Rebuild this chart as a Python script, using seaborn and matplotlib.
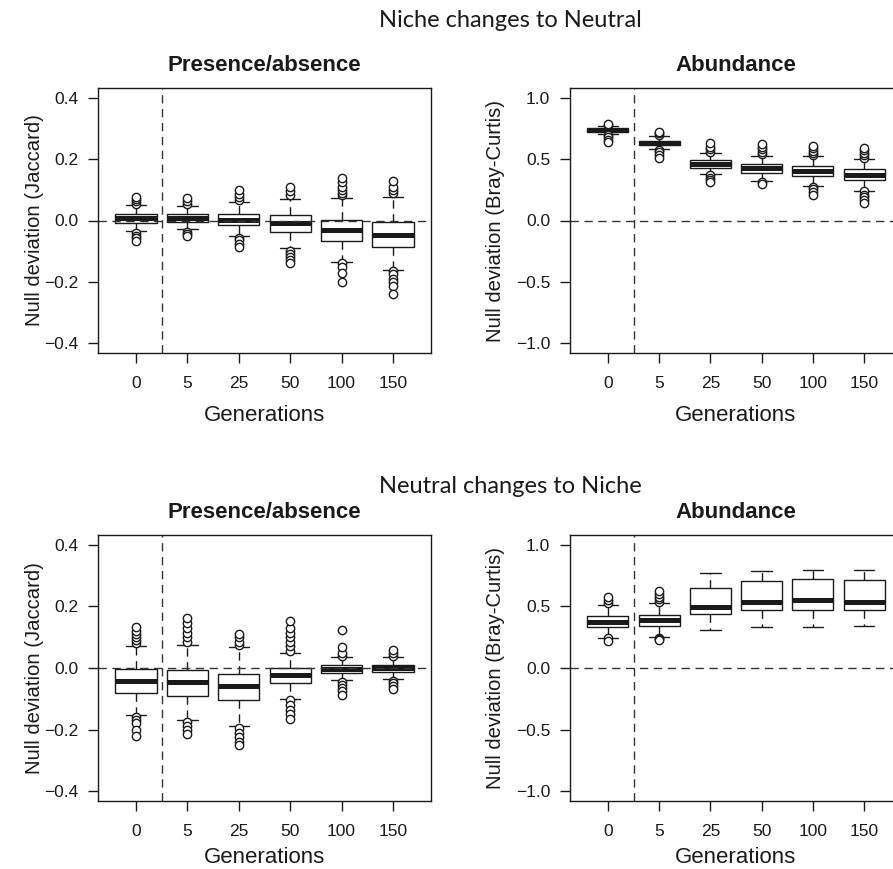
import numpy as np
import pandas as pd
import matplotlib
matplotlib.use("Agg")
import matplotlib.pyplot as plt
import seaborn as sns

# ---------------- data ----------------
generations = ["0", "5", "25", "50", "100", "150"]

# Niche changes to Neutral -- Presence/absence (Jaccard)
nn_pa_lo = [-0.035, -0.028, -0.050, -0.090, -0.135, -0.160]
nn_pa_q1 = [-0.008, -0.005, -0.016, -0.038, -0.068, -0.085]
nn_pa_med = [0.007, 0.008, 0.002, -0.009, -0.031, -0.047]
nn_pa_q3 = [0.022, 0.022, 0.022, 0.017, 0.002, -0.005]
nn_pa_hi = [0.049, 0.048, 0.059, 0.069, 0.074, 0.077]
nn_pa_out = [
    [0.055, 0.063, 0.070, 0.076, -0.042, -0.050, -0.058, -0.066],
    [0.055, 0.063, 0.074, -0.036, -0.044, -0.052],
    [0.067, 0.075, 0.085, 0.100, -0.057, -0.065, -0.075, -0.085],
    [0.083, 0.095, 0.110, -0.098, -0.110, -0.120, -0.130, -0.140],
    [0.082, 0.090, 0.100, 0.110, 0.125, 0.140, -0.140, -0.150, -0.170, -0.200],
    [0.090, 0.100, 0.110, 0.128, -0.165, -0.175, -0.190, -0.200, -0.215, -0.240],
]

# Niche changes to Neutral -- Abundance (Bray-Curtis)
nn_ab_lo = [0.707, 0.583, 0.377, 0.322, 0.285, 0.244]
nn_ab_q1 = [0.724, 0.612, 0.425, 0.390, 0.363, 0.330]
nn_ab_med = [0.740, 0.634, 0.460, 0.428, 0.404, 0.371]
nn_ab_q3 = [0.756, 0.650, 0.493, 0.463, 0.447, 0.420]
nn_ab_hi = [0.772, 0.688, 0.547, 0.528, 0.526, 0.500]
nn_ab_out = [
    [0.780, 0.790, 0.700, 0.680, 0.660, 0.640],
    [0.700, 0.712, 0.722, 0.575, 0.555, 0.530, 0.510],
    [0.560, 0.580, 0.600, 0.630, 0.370, 0.350, 0.330, 0.310],
    [0.540, 0.560, 0.580, 0.600, 0.622, 0.315, 0.300],
    [0.535, 0.550, 0.570, 0.590, 0.610, 0.275, 0.255, 0.235, 0.210],
    [0.510, 0.530, 0.550, 0.575, 0.595, 0.240, 0.210, 0.190, 0.165, 0.140],
]

# Neutral changes to Niche -- Presence/absence (Jaccard)
ne_pa_lo = [-0.154, -0.168, -0.190, -0.100, -0.040, -0.037]
ne_pa_q1 = [-0.080, -0.090, -0.105, -0.049, -0.016, -0.013]
ne_pa_med = [-0.041, -0.046, -0.060, -0.024, -0.002, 0.000]
ne_pa_q3 = [-0.004, -0.008, -0.018, 0.000, 0.011, 0.011]
ne_pa_hi = [0.071, 0.075, 0.068, 0.050, 0.036, 0.036]
ne_pa_out = [
    [0.080, 0.090, 0.100, 0.110, 0.120, 0.132, -0.160, -0.170, -0.180, -0.200, -0.220],
    [0.085, 0.100, 0.115, 0.130, 0.145, 0.162, -0.175, -0.190, -0.200, -0.215],
    [0.075, 0.085, 0.100, 0.112, -0.195, -0.210, -0.225, -0.240, -0.250],
    [0.055, 0.070, 0.085, 0.100, 0.115, 0.130, 0.152, -0.105, -0.120, -0.135, -0.150, -0.165],
    [0.040, 0.050, 0.068, 0.125, -0.045, -0.055, -0.065, -0.075, -0.088],
    [0.040, 0.050, 0.060, -0.042, -0.050, -0.060, -0.068],
]

# Neutral changes to Niche -- Abundance (Bray-Curtis)
ne_ab_lo = [0.247, 0.253, 0.307, 0.332, 0.334, 0.345]
ne_ab_q1 = [0.334, 0.342, 0.440, 0.467, 0.475, 0.473]
ne_ab_med = [0.375, 0.389, 0.495, 0.533, 0.549, 0.535]
ne_ab_q3 = [0.421, 0.432, 0.647, 0.709, 0.720, 0.715]
ne_ab_hi = [0.511, 0.530, 0.774, 0.790, 0.799, 0.799]
ne_ab_out = [
    [0.525, 0.555, 0.578, 0.240, 0.220],
    [0.540, 0.560, 0.580, 0.600, 0.625, 0.245, 0.235, 0.225],
    [], [], [], [],
]

# ---------------- style ----------------
sns.set_theme(style="white")
SANS = ["Liberation Sans", "DejaVu Sans"]
plt.rcParams["font.family"] = SANS
plt.rcParams["axes.edgecolor"] = "#1a1a1a"
plt.rcParams["axes.linewidth"] = 1.0

DASH = (0, (6, 4))
INK = "#1a1a1a"


def box_frame(lo, q1, med, q3, hi):
    rows = []
    for g, a, b, c, d, e in zip(generations, lo, q1, med, q3, hi):
        for v in (a, b, c, d, e):
            rows.append((g, v))
    return pd.DataFrame(rows, columns=["Generations", "value"])


def outlier_frame(outs):
    rows = [(g, v) for g, vals in zip(generations, outs) for v in vals]
    return pd.DataFrame(rows, columns=["Generations", "value"])


def draw_panel(ax, lo, q1, med, q3, hi, outs, lim, yticks, title, ylabel,
               ylab_x, xlab_y):
    df = box_frame(lo, q1, med, q3, hi)
    sns.boxplot(data=df, x="Generations", y="value", order=generations, ax=ax,
                whis=(0, 100), width=0.8, color="white", linecolor=INK,
                linewidth=1.0, showfliers=False, saturation=1,
                medianprops=dict(linewidth=3.6, color=INK, solid_capstyle="butt"),
                whiskerprops=dict(linestyle=DASH, linewidth=1.0),
                capprops=dict(linewidth=1.0))
    od = outlier_frame(outs)
    if len(od):
        sns.stripplot(data=od, x="Generations", y="value", order=generations, ax=ax,
                      jitter=False, color="white", edgecolor=INK, linewidth=1.0,
                      size=6.0, zorder=5)
    ax.axhline(0, color="#333333", lw=1.0, ls=DASH, zorder=4)
    ax.axvline(0.5, color="#333333", lw=1.0, ls=DASH, zorder=4)
    ax.set_xlim(-0.74, 5.74)
    ax.set_ylim(-lim * 1.08, lim * 1.08)
    ax.set_yticks(yticks)
    ax.set_yticklabels([f"{t:.1f}".replace("-", "\u2212") for t in yticks])
    ax.set_xticks(range(len(generations)))
    ax.set_xticklabels(generations)
    ax.tick_params(axis="both", which="both", bottom=True, left=True,
                   direction="out", length=7.2, width=1.0, color=INK,
                   labelsize=12.5, labelcolor=INK)
    ax.tick_params(axis="x", pad=9.5)
    ax.tick_params(axis="y", pad=7)
    for lab in ax.get_xticklabels() + ax.get_yticklabels():
        lab.set_fontfamily(SANS)
    for s in ax.spines.values():
        s.set_visible(True)
        s.set_color(INK)
        s.set_linewidth(1.0)
    ax.set_title(title, fontsize=16, fontweight="bold", color=INK, pad=12,
                 family=SANS)
    ax.set_xlabel("Generations", fontsize=16, color=INK, family=SANS)
    ax.xaxis.set_label_coords(0.5, xlab_y)
    ax.set_ylabel(ylabel, fontsize=14.6, color=INK, family=SANS)
    ax.yaxis.set_label_coords(ylab_x, 0.5)


fig = plt.figure(figsize=(8.93, 8.69), dpi=100)
ax_tl = fig.add_axes([98 / 893, 516 / 869, 333 / 893, 265 / 869])
ax_tr = fig.add_axes([570 / 893, 516 / 869, 332 / 893, 265 / 869])
ax_bl = fig.add_axes([98 / 893, 68 / 869, 333 / 893, 266 / 869])
ax_br = fig.add_axes([570 / 893, 68 / 869, 332 / 893, 266 / 869])

pa_ticks = [-0.4, -0.2, 0.0, 0.2, 0.4]
ab_ticks = [-1.0, -0.5, 0.0, 0.5, 1.0]

draw_panel(ax_tl, nn_pa_lo, nn_pa_q1, nn_pa_med, nn_pa_q3, nn_pa_hi, nn_pa_out,
           0.4, pa_ticks, "Presence/absence", "Null deviation (Jaccard)",
           -0.163, -0.195)
draw_panel(ax_tr, nn_ab_lo, nn_ab_q1, nn_ab_med, nn_ab_q3, nn_ab_hi, nn_ab_out,
           1.0, ab_ticks, "Abundance", "Null deviation (Bray-Curtis)",
           -0.197, -0.195)
draw_panel(ax_bl, ne_pa_lo, ne_pa_q1, ne_pa_med, ne_pa_q3, ne_pa_hi, ne_pa_out,
           0.4, pa_ticks, "Presence/absence", "Null deviation (Jaccard)",
           -0.163, -0.172)
draw_panel(ax_br, ne_ab_lo, ne_ab_q1, ne_ab_med, ne_ab_q3, ne_ab_hi, ne_ab_out,
           1.0, ab_ticks, "Abundance", "Null deviation (Bray-Curtis)",
           -0.197, -0.172)

fig.text(510 / 893, 1 - 27 / 869, "Niche changes to Neutral", ha="center",
         va="baseline", fontsize=17, family=["Lato", "DejaVu Sans"], color=INK)
fig.text(510 / 893, 1 - 493 / 869, "Neutral changes to Niche", ha="center",
         va="baseline", fontsize=17, family=["Lato", "DejaVu Sans"], color=INK)

fig.savefig("out.png", dpi=100, facecolor="white")
